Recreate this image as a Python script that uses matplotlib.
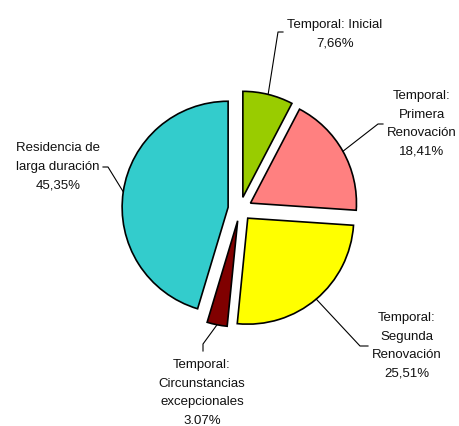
import numpy as np
import matplotlib; matplotlib.use("Agg"); import matplotlib.pyplot as plt

W, H = 460, 427
labels = ["Temporal: Inicial", "Temporal:\nPrimera\nRenovación", "Temporal:\nSegunda\nRenovación",
          "Temporal:\nCircunstancias\nexcepcionales", "Residencia de\nlarga duración"]
pct_txt = ["7,66%", "18,41%", "25,51%", "3.07%", "45,35%"]
values = [7.66, 18.41, 25.51, 3.07, 45.35]
colors = ["#99CC00", "#FF8080", "#FFFF00", "#800000", "#33CCCC"]

# label layout in screen pixels (y down): text centre, leader elbow, leader end near text
lab_xy = [(335, 34), (422, 124), (407, 346), (202, 393), (58, 167)]
elbow = [(278, 33), (378, 125), (360, 347), (203, 345), (108, 168)]
tail = [(283, 33), (383, 125), (368, 347), (203, 352), (103, 168)]

plt.rcParams["font.family"] = ["Liberation Sans", "DejaVu Sans"]
fig = plt.figure(figsize=(W/100, H/100), dpi=100)
ax = fig.add_axes([0, 0, 1, 1])
R = 106
wedges, _ = ax.pie(values, colors=colors, startangle=90, counterclock=False,
                   explode=[12]*5, radius=R, center=(240, H-210),
                   wedgeprops=dict(edgecolor="black", linewidth=1.2))
ax.set_xlim(0, W); ax.set_ylim(0, H); ax.set_aspect("equal"); ax.axis("off")

for w, lab, pt, (tx, ty), (ex, ey), (qx, qy) in zip(wedges, labels, pct_txt, lab_xy, elbow, tail):
    a = np.deg2rad((w.theta1 + w.theta2)/2)
    cx, cy = w.center
    px, py = cx + w.r*np.cos(a), cy + w.r*np.sin(a)
    ax.plot([px, ex, qx], [py, H-ey, H-qy], color="black", lw=0.8)
    ax.text(tx, H-ty, lab + "\n" + pt, ha="center", va="center", fontsize=9.5,
            linespacing=1.74, color="#111111")

fig.savefig("out.png", dpi=100)
